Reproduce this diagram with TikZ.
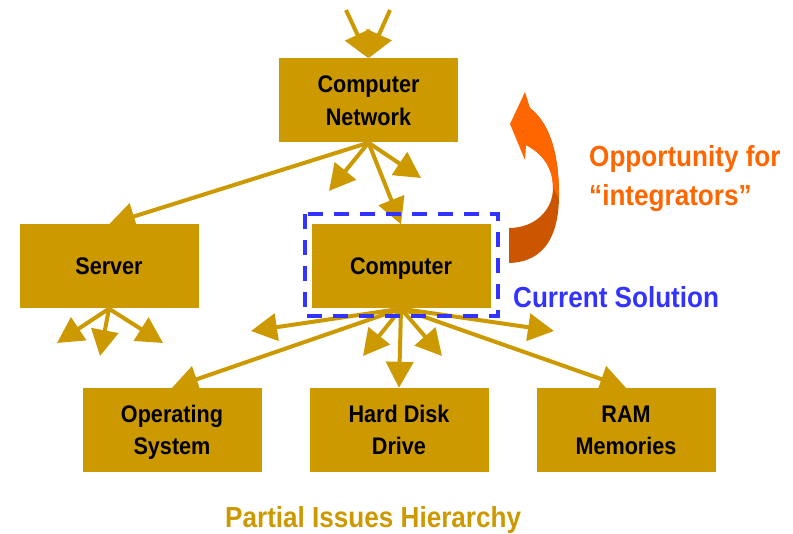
\documentclass[tikz,border=0pt]{standalone}
\usepackage{fontspec}
\setmainfont{Liberation Sans}[FakeStretch=0.9]
\usetikzlibrary{arrows.meta}
\definecolor{gold}{HTML}{CC9900}
\definecolor{solblue}{HTML}{3333FF}
\definecolor{orglight}{HTML}{FF6600}
\definecolor{orgdark}{HTML}{CC5500}
\tikzset{
  box/.style={fill=gold, minimum width=179pt, minimum height=84pt, inner sep=0pt,
    align=center, text depth=0pt, font=\bfseries\fontsize{24}{32.5}\selectfont},
  arr/.style={draw=gold, line width=4pt, -{Triangle[length=26pt,width=27pt]}},
  caption/.style={font=\bfseries\fontsize{29}{39}\selectfont, anchor=base west, inner sep=0pt}
}
\begin{document}
\begin{tikzpicture}[x=1pt,y=-1pt]
\useasboundingbox (0,0) rectangle (793,534);

% hierarchy boxes
\node[box] (cn)   at (368.5,100.5) {Computer\\Network};
\node[box] (srv)  at (109,266.5)   {Server};
\node[box] (comp) at (401,266.5)   {Computer};
\node[box] (os)   at (172,430)     {Operating\\System};
\node[box] (hdd)  at (399,430)     {Hard Disk\\Drive};
\node[box] (ram)  at (626,430)     {RAM\\Memories};

% free ends of the connectors
\coordinate (in1) at (346,10);
\coordinate (in2) at (390,10);
\coordinate (cnl) at (329,191);
\coordinate (cnr) at (421,178);
\coordinate (sl)  at (57,343);
\coordinate (sm)  at (100,356);
\coordinate (sr)  at (163,343);
\coordinate (cl)  at (251,331);
\coordinate (cml) at (363,356);
\coordinate (cmr) at (442,356);
\coordinate (cr)  at (554,331);

% incoming arrows
\draw[arr] (in1) -- (cn.north);
\draw[arr] (in2) -- (cn.north);

% network level
\draw[arr] (cn.south) -- (srv.north);
\draw[arr] (cn.south) -- (cnl);
\draw[arr] (cn.south) -- (cnr);
\draw[arr] (cn.south) -- (comp.north);

% server level
\draw[arr] (srv.south) -- (sl);
\draw[arr] (srv.south) -- (sm);
\draw[arr] (srv.south) -- (sr);

% computer level
\draw[arr] (comp.south) -- (cl);
\draw[arr] (comp.south) -- (os.north);
\draw[arr] (comp.south) -- (cml);
\draw[arr] (comp.south) -- (hdd.north);
\draw[arr] (comp.south) -- (cmr);
\draw[arr] (comp.south) -- (cr);
\draw[arr] (comp.south) -- (ram.north);

% current solution frame
\draw[solblue, line width=4pt, dash pattern=on 15pt off 11pt] (305,214) rectangle (498,316);
\node[caption, text=solblue] (cur) at (513,308) {Current Solution};

% curved orange arrow: dark back side, then the light front with the head
\fill[orgdark] (526,145) .. controls (545,155) and (553,170) .. (553,188)
  .. controls (553,210) and (535,228) .. (509,228) -- (509,263)
  .. controls (545,262) and (559,235) .. (559,195)
  .. controls (559,150) and (548,122) .. (530,108) -- cycle;
\fill[orglight] (525,92) -- (510,124) -- (525,160) -- (526,145)
  .. controls (545,155) and (553,170) .. (553,188) -- (559,198)
  .. controls (559,150) and (548,122) .. (530,108) -- cycle;

\node[caption, text=orglight] (opp1) at (589,167) {Opportunity for};
\node[caption, text=orglight] (opp2) at (589,206) {“integrators”};

% title
\node[caption, text=gold] (title) at (225,527) {Partial Issues Hierarchy};
\end{tikzpicture}
\end{document}
